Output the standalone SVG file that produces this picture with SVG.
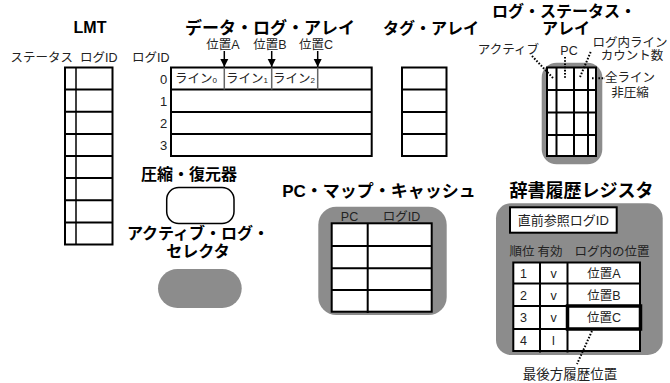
<svg xmlns="http://www.w3.org/2000/svg" width="670" height="383" viewBox="0 0 670 383">
<style>
text{font-family:"Liberation Sans","Noto Sans CJK JP",sans-serif;fill:#222}
.t{font-size:16px;font-weight:bold;fill:#000;text-anchor:middle}
.l{font-size:12.5px}
.m{text-anchor:middle}
.n{font-size:13px;text-anchor:middle}
.tb{fill:#fff;stroke:#000;stroke-width:2}
.ln{stroke:#000;stroke-width:2;fill:none}
.thin{stroke:#000;stroke-width:1.5;fill:none}
.gl{stroke:#666;stroke-width:1.5}
.bg{fill:#8c8c8c}
.dot{stroke:#000;stroke-width:2;stroke-dasharray:1.6 1.6;fill:none}
.ar{stroke:#000;stroke-width:1.5;marker-end:url(#ah)}
</style>
<defs>
<marker id="ah" markerWidth="9" markerHeight="9" refX="8" refY="4.5" orient="auto" markerUnits="userSpaceOnUse">
<path d="M0,0.5 L8,4.5 L0,8.5 Z" fill="#000"/>
</marker>
</defs>
<rect width="670" height="383" fill="#fff"/>

<g id="lmt">
<text class="t" x="90" y="33">LMT</text>
<text class="l" x="10.5" y="62">ステータス</text>
<text class="l" x="80" y="62">ログID</text>
<rect class="tb" x="65" y="67.5" width="47.5" height="177"/>
<line class="thin" x1="76" y1="67.5" x2="76" y2="244.5"/>
<path class="ln" d="M65,89.6H112.5M65,111.75H112.5M65,133.9H112.5M65,156H112.5M65,178.1H112.5M65,200.3H112.5M65,222.4H112.5"/>
</g>

<g id="data-log-array">
<text class="t" x="270" y="34" style="font-size:17px">データ・ログ・アレイ</text>
<text class="l" x="132" y="62">ログID</text>
<text class="n" x="163.5" y="83.5">0</text>
<text class="n" x="163.5" y="105.5">1</text>
<text class="n" x="163.5" y="127.5">2</text>
<text class="n" x="163.5" y="150">3</text>
<rect class="tb" x="171" y="67.5" width="200.7" height="88.5"/>
<path class="ln" d="M171,89.5H371.7M171,112H371.7M171,134H371.7"/>
<path class="gl" d="M224.3,67.5V89.5M271.7,67.5V89.5M317.7,67.5V89.5"/>
<text class="l" x="175" y="83">ライン<tspan font-size="8">0</tspan></text>
<text class="l" x="226" y="83">ライン<tspan font-size="8">1</tspan></text>
<text class="l" x="273" y="83">ライン<tspan font-size="8">2</tspan></text>
<text class="l m" x="223" y="49">位置A</text>
<text class="l m" x="270" y="49">位置B</text>
<text class="l m" x="316" y="49">位置C</text>
</g>

<g id="tag-array">
<text class="t" x="431" y="34">タグ・アレイ</text>
<rect class="tb" x="402" y="67.5" width="44.5" height="88.5"/>
<path class="ln" d="M402,89.5H446.5M402,112H446.5M402,134H446.5"/>
</g>

<g id="log-status-array">
<text class="t" x="564" y="17">ログ・ステータス・</text>
<text class="t" x="566" y="33.5">アレイ</text>
<rect class="bg" x="541.7" y="62.7" width="60.6" height="101.6" rx="15"/>
<rect class="tb" x="547" y="67.5" width="49" height="88.5"/>
<path class="ln" d="M547,90H596M547,112.5H596M547,135H596M556.5,67.5V156M574,67.5V156M588,67.5V156"/>
<text class="l" x="539" y="54" text-anchor="end">アクティブ</text>
<text class="l m" x="569" y="55">PC</text>
<text class="l m" x="630" y="47">ログ内ライン</text>
<text class="l m" x="632" y="60">カウント数</text>
<text class="l m" x="630" y="82">全ライン</text>
<text class="l m" x="630" y="97">非圧縮</text>
</g>

<g id="compressor">
<text class="t" x="189" y="180">圧縮・復元器</text>
<rect x="166.7" y="187.5" width="67.3" height="36" rx="12" fill="#fff" stroke="#000" stroke-width="1.5"/>
</g>

<g id="active-log-selector">
<text class="t" x="198" y="239">アクティブ・ログ・</text>
<text class="t" x="198" y="256.5">セレクタ</text>
<rect class="bg" x="158" y="269" width="83.7" height="39" rx="19.5"/>
</g>

<g id="pc-map-cache">
<text class="t" x="379" y="197" style="font-size:17px">PC・マップ・キャッシュ</text>
<rect class="bg" x="318.3" y="206.7" width="128.4" height="108.3" rx="18"/>
<text class="l m" x="349.5" y="221">PC</text>
<text class="l m" x="401.5" y="221">ログID</text>
<rect class="tb" x="331.7" y="223.3" width="100" height="88.4"/>
<path class="ln" d="M331.7,246H431.7M331.7,268.3H431.7M331.7,290H431.7M367.7,223.3V313"/>
</g>

<g id="dict-history-register">
<text class="t" x="581.5" y="197" style="font-size:18px">辞書履歴レジスタ</text>
<rect class="bg" x="496" y="203.3" width="166.7" height="151.7" rx="15"/>
<rect class="tb" x="510" y="207.3" width="106.7" height="25.4"/>
<text x="563.3" y="225" class="n">直前参照ログID</text>
<text class="l m" x="522" y="256">順位</text>
<text class="l m" x="550" y="256">有効</text>
<text class="l m" x="612" y="256">ログ内の位置</text>
<rect class="tb" x="513.3" y="262.5" width="126.7" height="88.5"/>
<path class="ln" d="M513.3,283.5H640M513.3,306H640M513.3,329H640M540,262.5V352.5M567.5,262.5V352.5"/>
<text class="l m" x="523.5" y="277.5">1</text>
<text class="l m" x="523.5" y="299.5">2</text>
<text class="l m" x="523.5" y="322">3</text>
<text class="l m" x="523.5" y="344.5">4</text>
<text class="l m" x="553.5" y="277.5">v</text>
<text class="l m" x="553.5" y="299.5">v</text>
<text class="l m" x="553.5" y="322">v</text>
<text class="l m" x="553.5" y="344.5">l</text>
<text class="l m" x="604" y="277.5">位置A</text>
<text class="l m" x="604" y="299.5">位置B</text>
<text class="l m" x="604" y="322">位置C</text>
<rect x="567.5" y="306" width="73" height="23" fill="none" stroke="#000" stroke-width="3.5"/>
<text class="m" x="570" y="379" style="font-size:13.5px">最後方履歴位置</text>
</g>

<g id="connectors">
<line class="ar" x1="224.3" y1="51" x2="224.3" y2="67"/>
<line class="ar" x1="271.7" y1="51" x2="271.7" y2="67"/>
<line class="ar" x1="317.7" y1="51" x2="317.7" y2="67"/>
<path class="dot" d="M532,56L553,78"/>
<path class="dot" d="M565,57V78"/>
<path class="dot" d="M590.7,52L580,77"/>
<path class="dot" d="M592,78.3H605"/>
<path class="dot" d="M592,331L577,364"/>
</g>
</svg>
